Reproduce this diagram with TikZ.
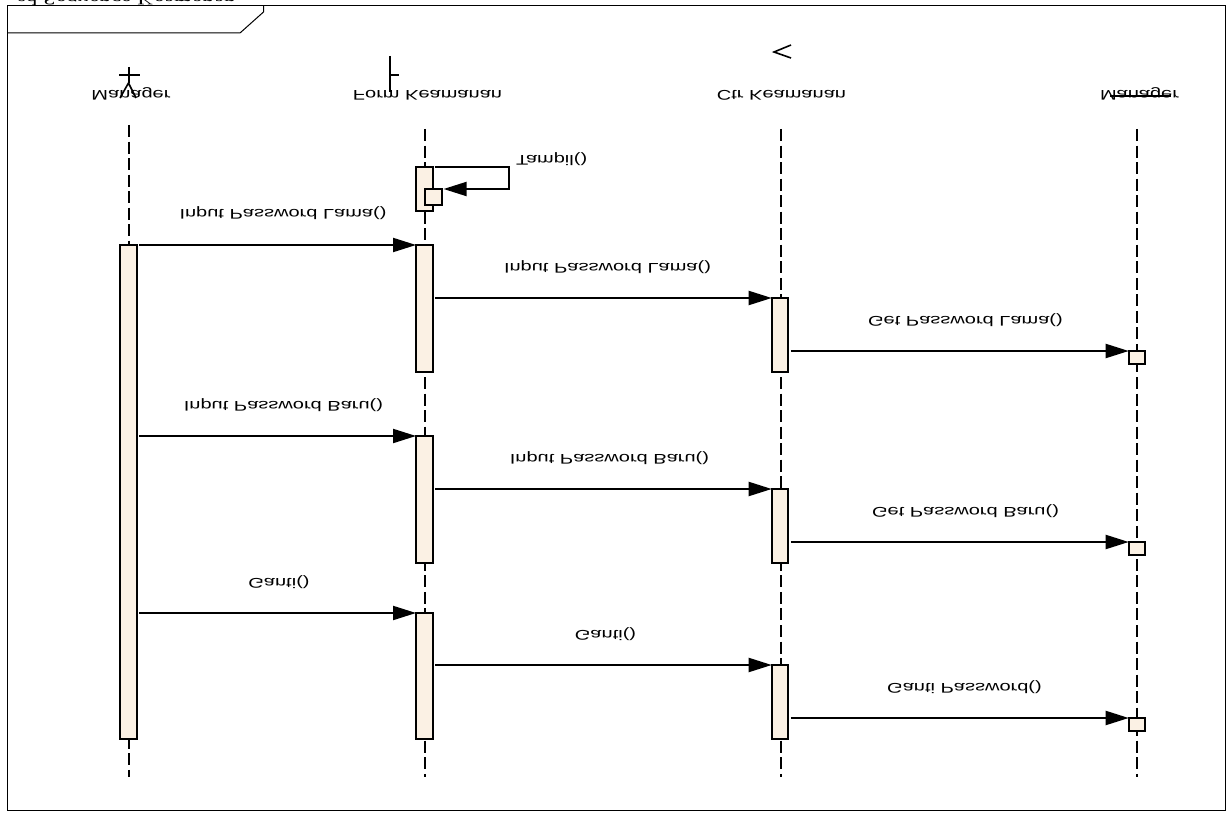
\documentclass[tikz,border=0pt]{standalone}
\usepackage{fontspec}
\setmainfont{Liberation Sans}
\newfontfamily\titlefont{Liberation Serif}
\usetikzlibrary{arrows.meta}
\definecolor{barfill}{HTML}{FBF1E4}
\tikzset{
  x=0.75pt, y=-0.75pt,
  lbl/.style={transform shape, xscale=1.43, yscale=-1, anchor=base, inner sep=0pt, outer sep=0pt,
              font=\fontsize{10.5}{12}\selectfont},
  lbll/.style={lbl, anchor=base west},
  titlelbl/.style={transform shape, xscale=1.33, yscale=-1, inner sep=0pt, outer sep=0pt, anchor=base west, font=\titlefont\fontsize{13}{15}\selectfont},
  lifeline/.style={line width=1.5pt, dash pattern=on 9pt off 3.4pt},
  actbar/.style={draw=black, fill=barfill, line width=1.5pt, rectangle, inner sep=0pt, outer sep=0pt,
                 minimum width=12.4pt, anchor=north},
  msg/.style={line width=1.5pt, -{Triangle[length=17.25pt,width=10.5pt]}},
  msgs/.style={msg, shorten <=2pt},
  icon/.style={line width=1.5pt},
  iconthin/.style={line width=1.2pt},
  framel/.style={line width=0.75pt}
}
\newcommand{\actbar}[4]{\node[actbar, minimum height={(#4-#3)*0.75pt}] (#1) at (#2,#3) {};}
\begin{document}
\begin{tikzpicture}
\useasboundingbox (0,0) rectangle (1229,813);
\fill[white] (0,0) rectangle (1229,813);
% frame
\draw[framel] (7,5.5) rectangle (1225,810);
\draw[framel] (7,33) -- (240,33) -- (263.5,12) -- (263.5,5.5);
\node[titlelbl] (title) at (17,-6) {sd Sequence Keamanan};
% icons
\draw[icon] (128.5,67) -- (128.5,83);
\draw[icon] (119,75) -- (140,75);
\draw[iconthin] (120,98) -- (128.5,83) -- (136,98);
\draw[icon] (390,56) -- (390,92);
\draw[icon] (390,75) -- (399,75);
\draw[iconthin] (791,45) -- (774,52) -- (791,58);
% actor names
\node[lbl] (n1) at (131,90.5) {Manager};
\node[lbl] (n2) at (427.5,90.5) {Form Keamanan};
\node[lbl] (n3) at (781.5,90.5) {Ctr Keamanan};
\node[lbl] (n4) at (1139.5,90.5) {Manager};
\draw[line width=1.2pt] (1110,96) -- (1171,96);
% lifelines
\coordinate (l1a) at (128.5,125); \coordinate (l1b) at (128.5,777);
\coordinate (l2a) at (424.5,129); \coordinate (l2b) at (424.5,777);
\coordinate (l3a) at (780.5,129); \coordinate (l3b) at (780.5,777);
\coordinate (l4a) at (1137,129);  \coordinate (l4b) at (1137,777);
\draw[lifeline] (l1a) -- (l1b);
\draw[lifeline] (l2a) -- (l2b);
\draw[lifeline] (l3a) -- (l3b);
\draw[lifeline] (l4a) -- (l4b);
% activation bars
\actbar{m}{128.3}{245}{739}
\actbar{s0}{424.3}{167}{211}
\actbar{s1}{433.3}{189}{205}
\actbar{f1}{424.3}{245}{372}
\actbar{f2}{424.3}{436}{563}
\actbar{f3}{424.3}{613}{739}
\actbar{c1}{780}{298}{372}
\actbar{c2}{780}{489}{563}
\actbar{c3}{780}{665}{739}
\actbar{r1}{1137}{351}{364}
\actbar{r2}{1137}{542}{555}
\actbar{r3}{1137}{718}{731}
% self message
\coordinate (turna) at (509,167);
\coordinate (turnb) at (509,189);
\draw[msg, shorten <=1.5pt, shorten >=1.5pt, line join=miter] (s0.north east) -- (turna) -- (turnb) -- (s1.north east);
% messages
\draw[msgs] (m.east |- f1.north west) -- (f1.north west);
\draw[msgs] (f1.east |- c1.north west) -- (c1.north west);
\draw[msgs] (c1.east |- r1.north west) -- (r1.north west);
\draw[msgs] (m.east |- f2.north west) -- (f2.north west);
\draw[msgs] (f2.east |- c2.north west) -- (c2.north west);
\draw[msgs] (c2.east |- r2.north west) -- (r2.north west);
\draw[msgs] (m.east |- f3.north west) -- (f3.north west);
\draw[msgs] (f3.east |- c3.north west) -- (c3.north west);
\draw[msgs] (c3.east |- r3.north west) -- (r3.north west);
% message labels
\node[lbll] (t0) at (516,155.5) {Tampil()};
\node[lbl] (t1) at (283,210) {Input Password Lama()};
\node[lbl] (t2) at (607.5,263) {Input Password Lama()};
\node[lbl] (t3) at (965.5,316) {Get Password Lama()};
\node[lbl] (t4) at (283.5,401) {Input Password Baru()};
\node[lbl] (t5) at (609.5,454) {Input Password Baru()};
\node[lbl] (t6) at (965.5,507) {Get Password Baru()};
\node[lbl] (t7) at (279,578) {Ganti()};
\node[lbl] (t8) at (605.5,630) {Ganti()};
\node[lbl] (t9) at (964.5,683) {Ganti Password()};
\end{tikzpicture}
\end{document}
